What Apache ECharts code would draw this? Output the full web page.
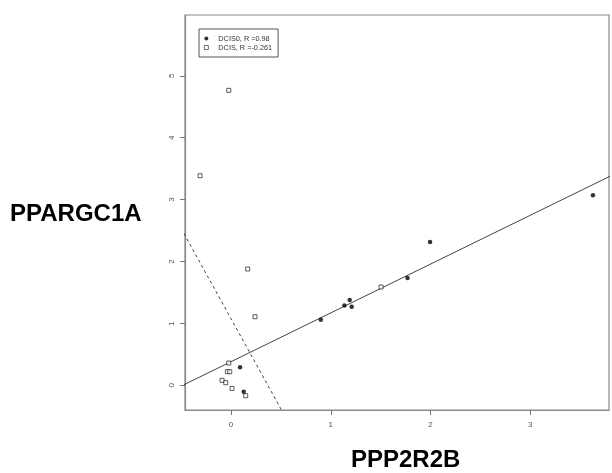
<!DOCTYPE html>
<html>
<head>
<meta charset="utf-8">
<script src="https://cdn.jsdelivr.net/npm/echarts@6/dist/echarts.min.js"></script>
<style>html,body{margin:0;padding:0;background:#fff}#c{width:612px;height:473px}</style>
</head>
<body>
<div id="c"></div>
<script>
// ---- data ----
var dcis0X = [0.09, 0.127, 0.90, 1.137, 1.19, 1.21, 1.77, 1.996, 3.63];
var dcis0Y = [0.29, -0.103, 1.06, 1.29, 1.378, 1.27, 1.733, 2.315, 3.07];
var dcisX = [-0.311, -0.023, 0.167, 0.24, -0.023, -0.037, -0.013, -0.09, -0.053, 0.01, 0.147, 1.505];
var dcisY = [3.386, 4.766, 1.879, 1.108, 0.36, 0.22, 0.22, 0.08, 0.042, -0.05, -0.168, 1.588];
// regression lines: [intercept, slope]
var fitDcis0 = [0.382, 0.788];
var fitDcis = [1.075, -2.915];
var xTicks = [0, 1, 2, 3];
var yTicks = [0, 1, 2, 3, 4, 5];
var seriesNames = ['DCIS0, R =0.98', 'DCIS, R =-0.261'];
var xTitle = 'PPP2R2B';
var yTitle = 'PPARGC1A';

var xMin = -0.462, xMax = 3.791, yMin = -0.399, yMax = 5.983;

function pairs(xs, ys) { return xs.map(function (x, i) { return [x, ys[i]]; }); }
function fitLine(f) { return [[xMin - 1, f[0] + f[1] * (xMin - 1)], [xMax + 1, f[0] + f[1] * (xMax + 1)]]; }

var chart = echarts.init(document.getElementById('c'), null, { renderer: 'canvas' });
var font = '"Liberation Sans", Arial, Helvetica, sans-serif';
chart.setOption({
  animation: false,
  backgroundColor: '#fff',
  textStyle: { fontFamily: font },
  grid: { left: 185, top: 15, right: 3, bottom: 63, show: true, borderColor: '#8a8a8a', borderWidth: 1.2, backgroundColor: 'transparent' },
  xAxis: {
    type: 'value', min: xMin, max: xMax,
    splitLine: { show: false },
    axisLine: { show: true, onZero: false, lineStyle: { color: '#8a8a8a', width: 1.2 } },
    axisTick: { show: true, length: 5, customValues: xTicks, lineStyle: { color: '#777' } },
    axisLabel: { customValues: xTicks, color: '#555', fontSize: 8, margin: 11, fontFamily: font }
  },
  yAxis: {
    type: 'value', min: yMin, max: yMax,
    splitLine: { show: false },
    axisLine: { show: true, onZero: false, lineStyle: { color: '#8a8a8a', width: 1.2 } },
    axisTick: { show: true, length: 5, customValues: yTicks, lineStyle: { color: '#777' } },
    axisLabel: { customValues: yTicks, color: '#555', fontSize: 8, margin: 9, rotate: 90, fontFamily: font }
  },
  legend: {
    data: [
      { name: seriesNames[0], icon: 'circle', itemStyle: { color: '#000' } },
      { name: seriesNames[1], icon: 'rect', itemStyle: { color: '#fff', borderColor: '#000', borderWidth: 0.7 } }
    ],
    orient: 'vertical', left: 199, top: 29,
    padding: [5, 6, 5, 5], itemGap: 0, itemWidth: 4, itemHeight: 4,
    borderColor: '#555', borderWidth: 1, backgroundColor: '#fff',
    textStyle: { fontSize: 7.3, color: '#333', lineHeight: 9, padding: [0, 0, 0, 5], fontFamily: font }
  },
  graphic: [
    { type: 'text', left: 10, top: 202, style: { text: yTitle, font: 'bold 24px ' + font, fill: '#000' } },
    { type: 'text', left: 351, top: 448, style: { text: xTitle, font: 'bold 24px ' + font, fill: '#000' } }
  ],
  series: [
    {
      name: 'fit0', type: 'line', data: fitLine(fitDcis0), showSymbol: false, symbol: 'none', clip: true,
      lineStyle: { color: '#444', width: 1 }, z: 1, silent: true
    },
    {
      name: 'fit1', type: 'line', data: fitLine(fitDcis), showSymbol: false, symbol: 'none', clip: true,
      lineStyle: { color: '#444', width: 1, type: [3, 3] }, z: 1, silent: true
    },
    {
      name: seriesNames[0], type: 'scatter', data: pairs(dcis0X, dcis0Y), symbol: 'circle', symbolSize: 4.5,
      itemStyle: { color: '#000' }, z: 3
    },
    {
      name: seriesNames[1], type: 'scatter', data: pairs(dcisX, dcisY), symbol: 'rect', symbolSize: 4,
      itemStyle: { color: '#fff', borderColor: '#000', borderWidth: 0.8 }, z: 3
    }
  ]
});
</script>
</body>
</html>
